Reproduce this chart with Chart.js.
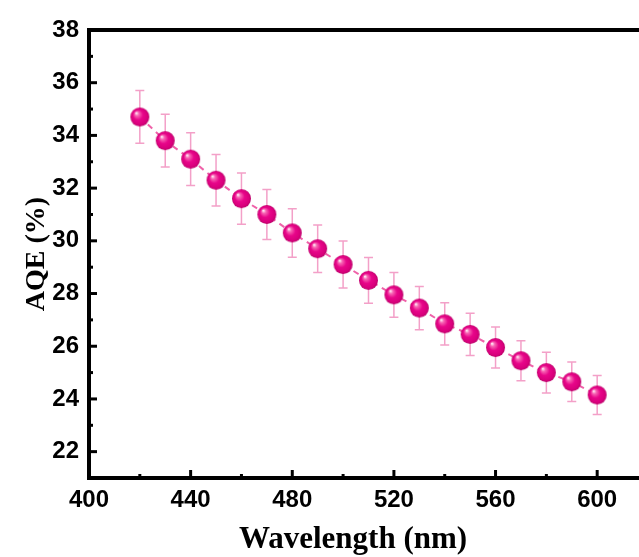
<!DOCTYPE html>
<html>
<head>
  <meta charset="utf-8">
  <title>AQE vs Wavelength</title>
  <script src="https://cdn.jsdelivr.net/npm/chart.js"></script>
  <style>
    html, body { margin: 0; padding: 0; background: #fff; overflow: hidden; }
    #wrap { width: 639px; height: 557px; overflow: hidden; }
  </style>
</head>
<body>
  <div id="wrap">
    <canvas id="aqeChart" width="660" height="557"></canvas>
  </div>

  <script>
    // Data
    const wavelengths = [420, 430, 440, 450, 460, 470, 480, 490, 500, 510, 520, 530, 540, 550, 560, 570, 580, 590, 600];
    const aqe = [34.7, 33.8, 33.1, 32.3, 31.6, 31.0, 30.3, 29.7, 29.1, 28.5, 27.95, 27.45, 26.85, 26.45, 25.95, 25.45, 25.0, 24.65, 24.15];
    const aqeErr = [1.0, 1.0, 1.0, 0.98, 0.97, 0.95, 0.92, 0.9, 0.89, 0.87, 0.85, 0.82, 0.8, 0.8, 0.78, 0.76, 0.77, 0.75, 0.74];
    const xLabelTicks = [400, 440, 480, 520, 560, 600];
    const yLabelTicks = [22, 24, 26, 28, 30, 32, 34, 36, 38];

    const tickFont = { family: "'Liberation Sans', Arial, sans-serif", size: 24, weight: 'bold' };
    const titleFont = "bold 31px 'Liberation Serif', 'Times New Roman', serif";

    // glossy sphere used as marker
    function makeSphere(r) {
      const c = document.createElement('canvas');
      c.width = c.height = r * 2 + 2;
      const g = c.getContext('2d');
      const cx = r + 1, cy = r + 1;
      const grad = g.createRadialGradient(cx - r * 0.38, cy - r * 0.42, r * 0.05, cx, cy, r);
      grad.addColorStop(0, '#ffe6f3');
      grad.addColorStop(0.18, '#f766b4');
      grad.addColorStop(0.5, '#e8068a');
      grad.addColorStop(0.85, '#d9007c');
      grad.addColorStop(1, '#b80068');
      g.fillStyle = grad;
      g.beginPath();
      g.arc(cx, cy, r, 0, Math.PI * 2);
      g.fill();
      return c;
    }
    const sphere = makeSphere(9.5);

    const points = wavelengths.map((w, i) => ({ x: w, y: aqe[i] }));

    // error bars under the markers
    const errorBars = {
      id: 'errorBars',
      beforeDatasetsDraw(chart) {
        const ctx = chart.ctx;
        const xs = chart.scales.x, ys = chart.scales.y;
        ctx.save();
        ctx.strokeStyle = '#f3a0c8';
        ctx.lineWidth = 1.5;
        wavelengths.forEach((w, i) => {
          const px = xs.getPixelForValue(w);
          const top = ys.getPixelForValue(aqe[i] + aqeErr[i]);
          const bot = ys.getPixelForValue(aqe[i] - aqeErr[i]);
          ctx.beginPath();
          ctx.moveTo(px, top); ctx.lineTo(px, bot);
          ctx.moveTo(px - 4.5, top); ctx.lineTo(px + 4.5, top);
          ctx.moveTo(px - 4.5, bot); ctx.lineTo(px + 4.5, bot);
          ctx.stroke();
        });
        ctx.restore();
      }
    };

    // frame, inward ticks and x title
    const frame = {
      id: 'frame',
      afterDraw(chart) {
        const ctx = chart.ctx;
        const a = chart.chartArea;
        const xs = chart.scales.x, ys = chart.scales.y;
        ctx.save();
        ctx.strokeStyle = '#000';
        ctx.lineWidth = 3;
        xs.ticks.forEach(t => {
          const px = xs.getPixelForValue(t.value);
          const len = t.value % 40 === 0 ? 8 : 4;
          ctx.beginPath();
          ctx.moveTo(px, a.bottom); ctx.lineTo(px, a.bottom - len);
          ctx.stroke();
        });
        ys.ticks.forEach(t => {
          const py = ys.getPixelForValue(t.value);
          const len = t.value % 2 === 0 ? 8 : 4;
          ctx.beginPath();
          ctx.moveTo(a.left, py); ctx.lineTo(a.left + len, py);
          ctx.stroke();
        });
        ctx.lineWidth = 4;
        ctx.beginPath();
        ctx.moveTo(a.right, a.top);
        ctx.lineTo(a.left, a.top);
        ctx.lineTo(a.left, a.bottom);
        ctx.lineTo(a.right, a.bottom);
        ctx.stroke();

        ctx.fillStyle = '#000';
        ctx.font = titleFont;
        ctx.textAlign = 'center';
        ctx.textBaseline = 'middle';
        ctx.fillText('Wavelength (nm)', 353, 540);
        ctx.restore();
      }
    };

    new Chart(document.getElementById('aqeChart'), {
      type: 'line',
      data: {
        datasets: [{
          data: points,
          borderColor: '#ef62a9',
          borderWidth: 2,
          borderDash: [6, 5],
          pointStyle: sphere,
          pointRadius: 9.5,
          pointHoverRadius: 9.5,
          fill: false,
          tension: 0
        }]
      },
      options: {
        responsive: false,
        animation: false,
        events: [],
        layout: { padding: { top: 30, right: 12, left: 0, bottom: 0 } },
        plugins: {
          legend: { display: false },
          tooltip: { enabled: false }
        },
        scales: {
          x: {
            type: 'linear',
            min: 400,
            max: 620,
            afterFit(scale) { scale.height = 79; },
            grid: { display: false, drawTicks: false },
            border: { display: false },
            ticks: {
              stepSize: 20,
              padding: 8,
              color: '#000',
              font: tickFont,
              maxRotation: 0,
              autoSkip: false,
              callback: v => xLabelTicks.includes(v) ? String(v) : ''
            }
          },
          y: {
            min: 21,
            max: 38,
            afterFit(scale) { scale.width = 89; },
            grid: { display: false, drawTicks: false },
            border: { display: false },
            ticks: {
              stepSize: 1,
              padding: 10,
              color: '#000',
              font: tickFont,
              autoSkip: false,
              callback: v => yLabelTicks.includes(v) ? String(v) : ''
            },
            title: {
              display: true,
              text: 'AQE (%)',
              color: '#000',
              font: { family: "'Liberation Serif', 'Times New Roman', serif", size: 28, weight: 'bold' },
              padding: { top: 20, bottom: 0 }
            }
          }
        }
      },
      plugins: [errorBars, frame]
    });
  </script>
</body>
</html>
